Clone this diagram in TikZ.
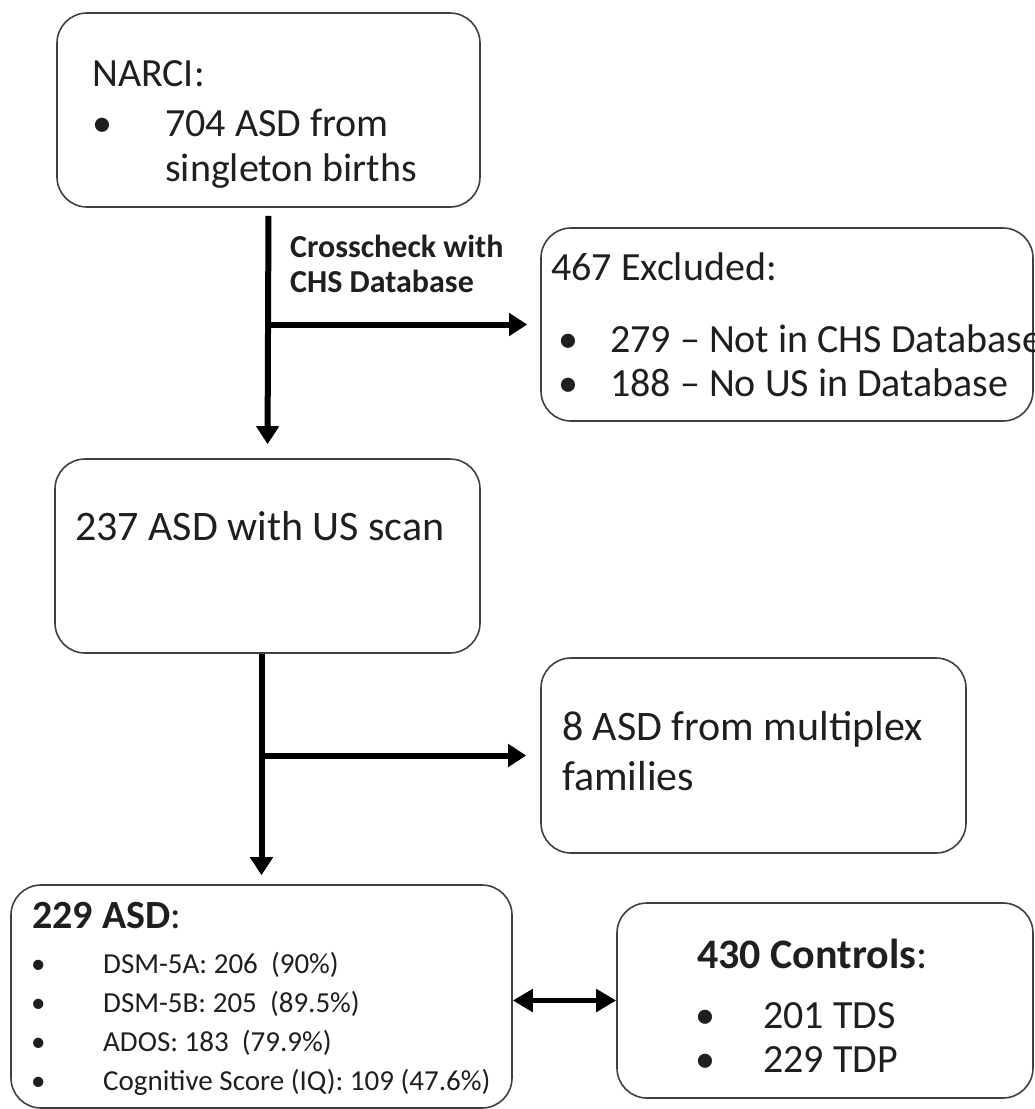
\documentclass[tikz,border=0pt]{standalone}
\usepackage{fontspec}
\setmainfont{Carlito}
\usetikzlibrary{arrows.meta}
\tikzset{
  box/.style={draw=black!75, line width=1.6pt, rounded corners=30pt, inner sep=0pt},
  txt/.style={anchor=base west, align=left, inner sep=0pt, text=black!88},
  flow/.style={line width=6pt, -{Triangle[length=18pt,width=22pt]}},
}
\newcommand\bl[1]{\makebox[#1][l]{\textbullet}}
\begin{document}
\begin{tikzpicture}[x=1pt,y=-1pt]
\useasboundingbox (0,0) rectangle (1034,1109);
% boxes
\node[box, minimum width=423pt, minimum height=194pt] (narci) at (268.5,110) {};
\node[box, minimum width=492pt, minimum height=193pt] (excl) at (787,324.5) {};
\node[box, minimum width=425pt, minimum height=194pt] (us) at (267.5,556) {};
\node[box, minimum width=425pt, minimum height=195pt] (multi) at (753.5,755.5) {};
\node[box, minimum width=501pt, minimum height=223pt] (asd) at (261.5,996.5) {};
\node[box, minimum width=416pt, minimum height=195pt] (ctrl) at (825,1000.5) {};
% texts (base = last line)
\node[txt, font=\fontsize{40}{45}\selectfont] (narcitxt) at (92,181) {NARCI:\\[5pt]\bl{73pt}704 ASD from\\\hspace*{73pt}singleton births};
\node[txt, font=\bfseries\fontsize{32}{35}\selectfont] (check) at (290,292) {Crosscheck with\\CHS Database};
\node[txt, font=\fontsize{40}{44}\selectfont] (excltxt) at (551,396) {467 Excluded:\\[28pt]\hspace*{7pt}\bl{52pt}279 -- Not in CHS Database\\\hspace*{7pt}\bl{52pt}188 -- No US in Database};
\node[txt, font=\fontsize{42}{50}\selectfont] (ustxt) at (75,540) {237 ASD with US scan};
\node[txt, font=\fontsize{42}{50}\selectfont] (multitxt) at (562,790) {8 ASD from multiplex\\families};
\node[txt, font=\fontsize{40}{44}\selectfont] (asdhead) at (32,928) {\textbf{229 ASD}:};
\node[txt, font=\fontsize{29}{39}\selectfont] (asdlist) at (31,1090) {\bl{72pt}DSM-5A: 206~ (90\%)\\\bl{72pt}DSM-5B: 205~ (89.5\%)\\\bl{72pt}ADOS: 183~ (79.9\%)\\\bl{72pt}Cognitive Score (IQ): 109 (47.6\%)};
\node[txt, font=\fontsize{42}{44}\selectfont] (ctrlhead) at (697,968) {\textbf{430 Controls}:};
\node[txt, font=\fontsize{40}{44}\selectfont] (ctrllist) at (695,1072) {\bl{68pt}201 TDS\\\bl{68pt}229 TDP};
% arrows
\draw[flow, shorten <=8pt, shorten >=14pt] (narci.south) -- (us.north);
\draw[flow, shorten >=13pt] (narci.south |- excl.west) -- (excl.west);
\draw[flow, shorten >=9pt] (us.south -| asd.north) -- (asd.north);
\draw[flow, shorten >=14pt] (asd.north |- multi.west) -- (multi.west);
\draw[line width=5pt, {Triangle[length=20pt,width=22pt]}-{Triangle[length=20pt,width=22pt]}] (asd.east |- ctrl.west) -- (ctrl.west);
\end{tikzpicture}
\end{document}
